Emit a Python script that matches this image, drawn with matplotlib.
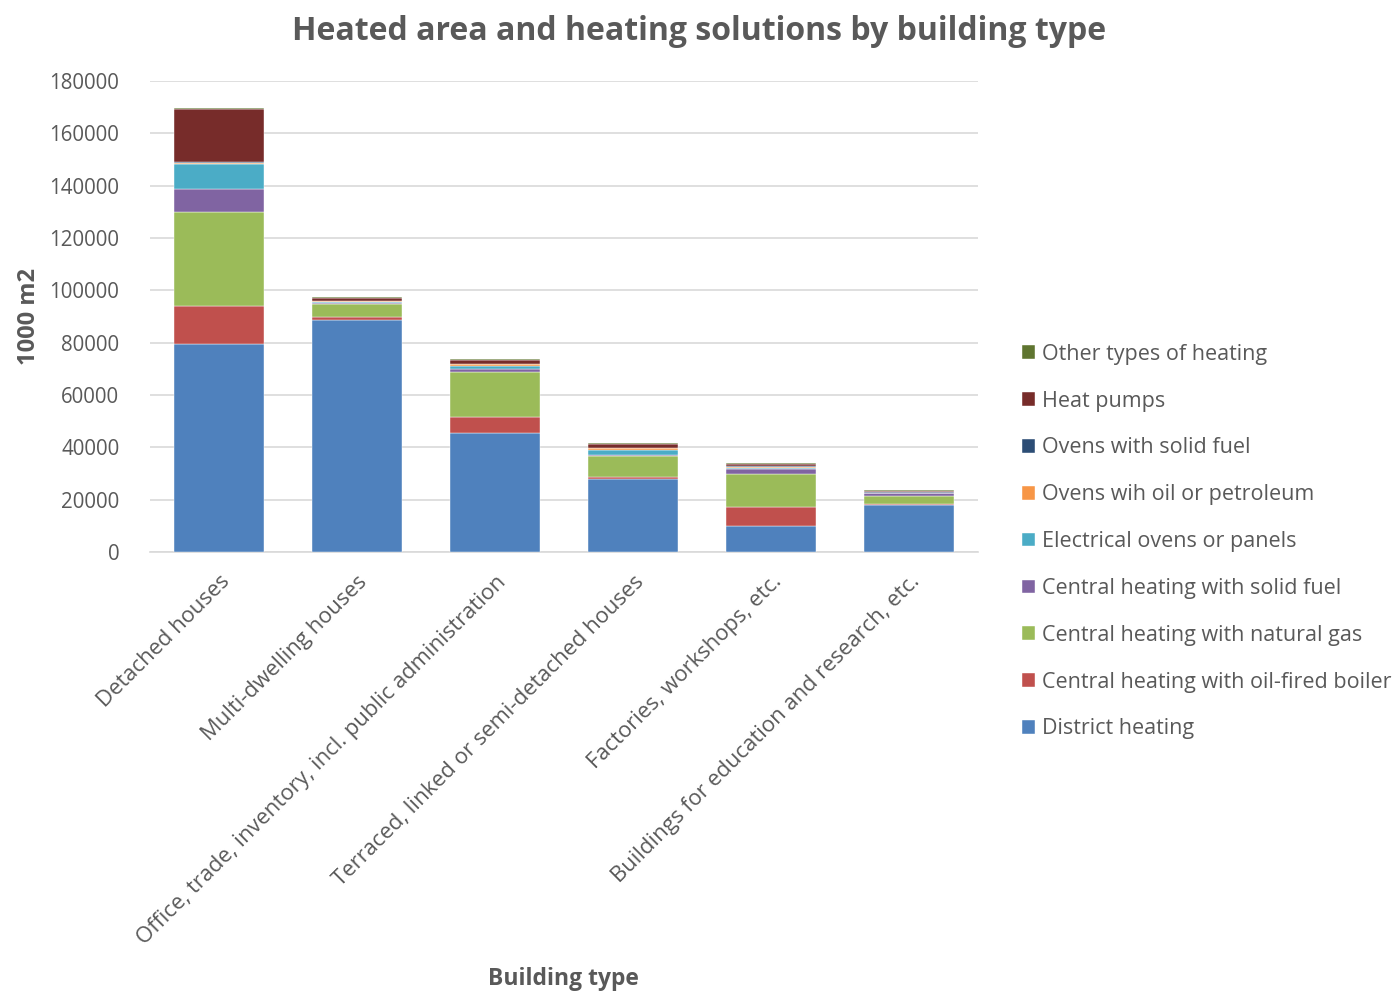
# -*- coding: utf-8 -*-

''' Heated area and heating solutions by building type. '''

import numpy as np
import matplotlib
matplotlib.use('Agg')
import matplotlib.pyplot as plt

# data, 1000 m2
building_types = ['Detached houses', 'Multi-dwelling houses',
                  'Office, trade, inventory, incl. public administration',
                  'Terraced, linked or semi-detached houses',
                  'Factories, workshops, etc.',
                  'Buildings for education and research, etc.']

district_heating = [79400, 88700, 45500, 27900, 10050, 17950]
oil_boiler = [14700, 1000, 6000, 650, 7000, 500]
natural_gas = [35700, 5000, 17200, 8150, 12700, 3050]
solid_fuel_central = [8800, 400, 1250, 300, 2000, 900]
electrical = [9700, 600, 1150, 2000, 500, 200]
oil_ovens = [300, 100, 600, 600, 100, 100]
solid_fuel_ovens = [400, 200, 200, 200, 700, 100]
heat_pumps = [20300, 1000, 1400, 1300, 600, 600]
other = [500, 300, 500, 400, 400, 300]

series = [('District heating', district_heating, '#4F81BD'),
          ('Central heating with oil-fired boiler', oil_boiler, '#C0504D'),
          ('Central heating with natural gas', natural_gas, '#9BBB59'),
          ('Central heating with solid fuel', solid_fuel_central, '#8064A2'),
          ('Electrical ovens or panels', electrical, '#4BACC6'),
          ('Ovens wih oil or petroleum', oil_ovens, '#F79646'),
          ('Ovens with solid fuel', solid_fuel_ovens, '#2C4D75'),
          ('Heat pumps', heat_pumps, '#772C2A'),
          ('Other types of heating', other, '#5F7530')]

plt.rcParams['font.family'] = ['Open Sans', 'DejaVu Sans']
grey = '#595959'

fig = plt.figure(figsize=(13.99, 9.93), dpi=100)
ax = fig.add_axes([0.1072, 0.4441, 0.592, 0.4743])

x = np.arange(len(building_types))
bottom = np.zeros(len(building_types))
for name, vals, col in series:
    ax.bar(x, vals, 0.65, bottom=bottom, color=col, label=name,
           edgecolor='white', linewidth=0.3, zorder=3)
    bottom += np.array(vals)

ax.set_xlim(-0.5, len(building_types) - 0.5)
ax.set_ylim(0, 180000)
ax.set_yticks(np.arange(0, 180001, 20000))
ax.yaxis.grid(True, color='#D9D9D9', linewidth=1.2, zorder=0)
for s in ['top', 'right', 'left']:
    ax.spines[s].set_visible(False)
ax.spines['bottom'].set_color('#D9D9D9')
ax.spines['bottom'].set_linewidth(1.2)
ax.tick_params(axis='both', length=0, colors=grey, labelsize=14.8)
ax.tick_params(axis='y', pad=22)
ax.tick_params(axis='x', pad=14, labelsize=15.8)
ax.set_xticks(x)
ax.set_xticklabels(building_types, rotation=45, ha='right',
                   rotation_mode='anchor')

ax.set_ylabel('1000 m2', fontsize=17, fontweight='bold', color=grey,
              labelpad=6)
fig.text(0.403, 0.008, 'Building type', fontsize=16.5, fontweight='bold',
         color=grey, ha='center')
fig.text(0.5, 0.96, 'Heated area and heating solutions by building type',
         fontsize=23, fontweight='bold', color=grey, ha='center')

handles, labels = ax.get_legend_handles_labels()
leg = ax.legend(handles[::-1], labels[::-1], loc='center left',
                bbox_to_anchor=(1.043, 0.022), frameon=False, fontsize=15.5,
                handlelength=0.6, handleheight=0.6, handletextpad=0.3,
                labelspacing=1.2, labelcolor=grey, borderaxespad=0)

plt.savefig('out.png', dpi=100)
